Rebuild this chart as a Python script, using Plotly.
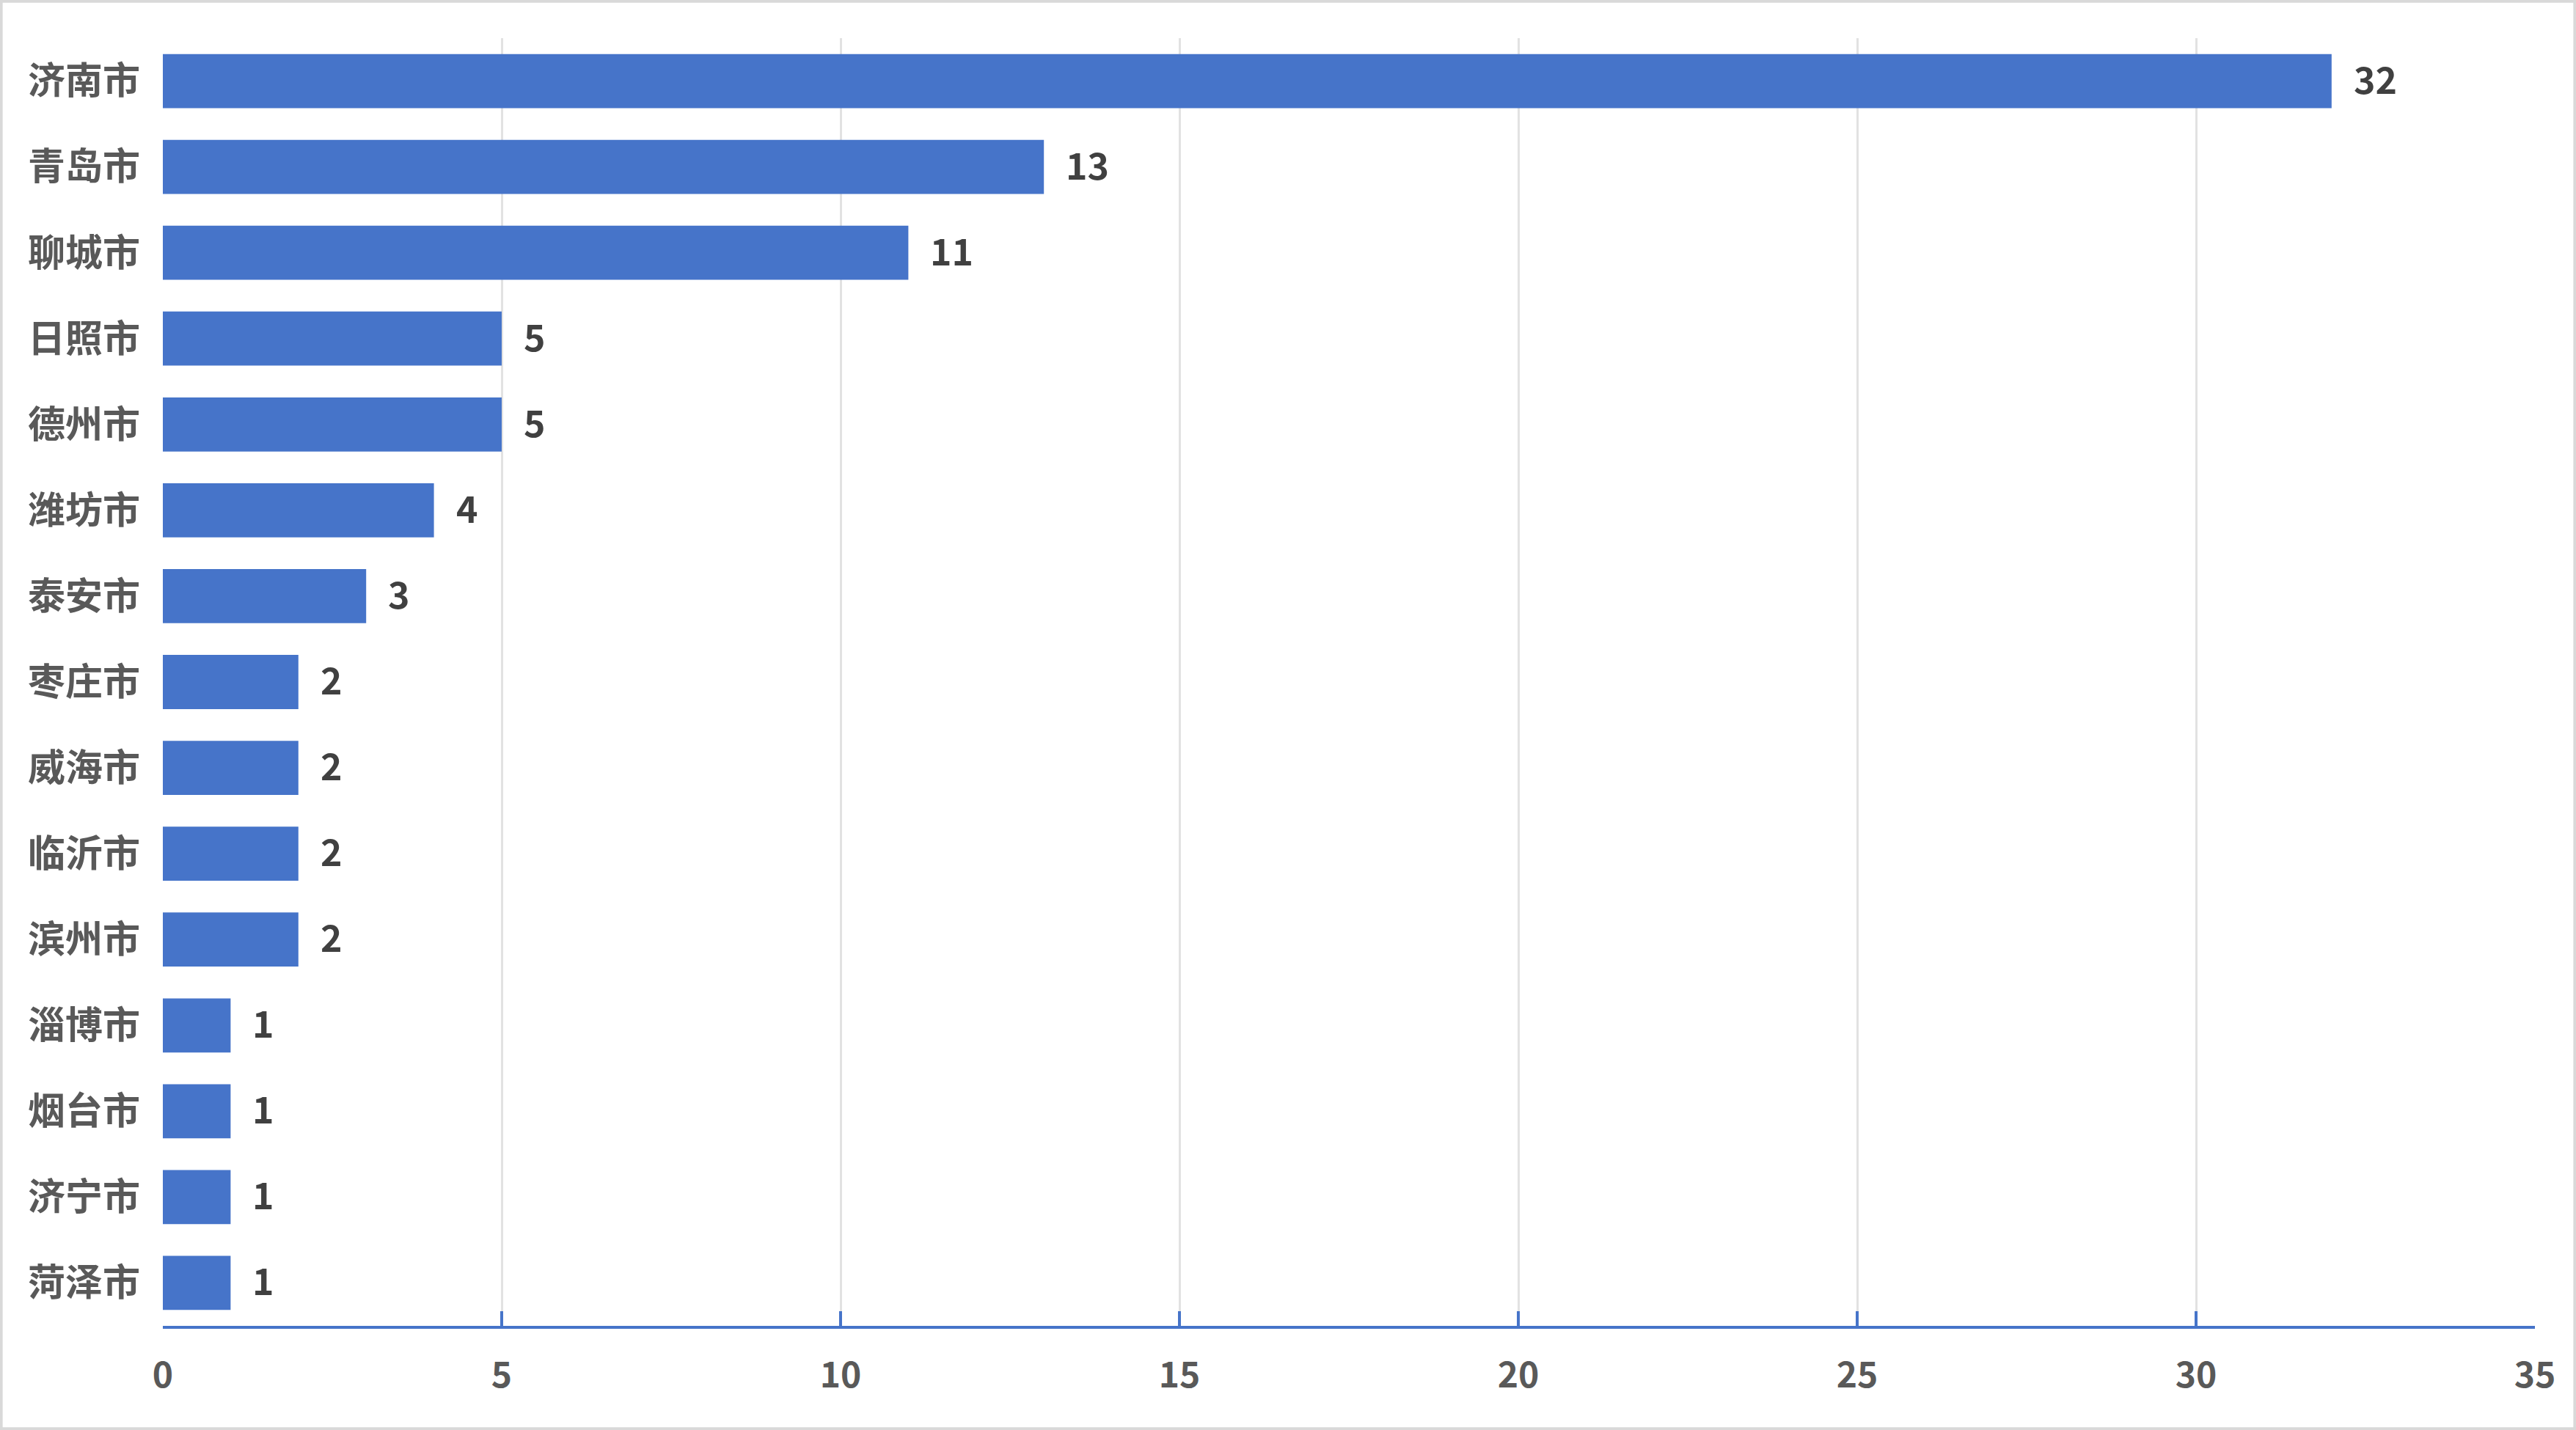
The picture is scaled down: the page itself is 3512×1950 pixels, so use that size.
import plotly.graph_objects as go

cities = ["济南市", "青岛市", "聊城市", "日照市", "德州市", "潍坊市", "泰安市", "枣庄市",
          "威海市", "临沂市", "滨州市", "淄博市", "烟台市", "济宁市", "菏泽市"]
counts = [32, 13, 11, 5, 5, 4, 3, 2, 2, 2, 2, 1, 1, 1, 1]
x_ticks = [0, 5, 10, 15, 20, 25, 30, 35]

W, H = 3512, 1950
ml, mr, mt, mb = 222, 56, 52, 142
blue = "#4674C9"
font_cjk = "Noto Sans CJK SC"

fig = go.Figure()
fig.add_trace(go.Bar(x=counts, y=cities, orientation="h",
                     marker=dict(color=blue, line=dict(width=0)),
                     hoverinfo="x+y"))

# value labels to the right of each bar
for c, v in zip(cities, counts):
    fig.add_annotation(x=v, y=c, text=str(v), showarrow=False,
                       xanchor="left", yanchor="middle", xshift=28, yshift=5,
                       font=dict(family=font_cjk, size=50, color="#404040", weight="bold"))

pw = W - ml - mr
ph = H - mt - mb
# thin grey frame round the whole picture
fig.add_shape(type="rect", xref="paper", yref="paper",
              x0=-ml / pw + 0.0005, x1=1 + mr / pw - 0.0005,
              y0=-mb / ph + 0.001, y1=1 + mt / ph - 0.001,
              line=dict(color="#d9d9d9", width=4), fillcolor="rgba(0,0,0,0)", layer="below")

fig.update_layout(
    width=W, height=H,
    margin=dict(l=ml, r=mr, t=mt, b=mb),
    paper_bgcolor="white", plot_bgcolor="white",
    bargap=0.37,
    showlegend=False,
    font=dict(family=font_cjk, color="#595959"),
    xaxis=dict(range=[0, 35], tickvals=x_ticks, showgrid=True,
               gridcolor="#e2e2e2", gridwidth=3,
               showline=True, linecolor=blue, linewidth=4,
               ticks="inside", ticklen=20, tickwidth=4, tickcolor=blue,
               tickfont=dict(family=font_cjk, size=48, color="#595959", weight="bold"),
               ticklabelstandoff=22, zeroline=False, fixedrange=True),
    yaxis=dict(autorange="reversed", showgrid=False, showline=False, ticks="",
               tickfont=dict(family=font_cjk, size=51, color="#595959", weight="bold"),
               ticklabelstandoff=30, fixedrange=True),
)

# page body has a default 8px margin; drop it so the chart sits at the corner
fig.write_html("out.html", config={"displayModeBar": False},
               post_script="document.body.style.margin='0';")
